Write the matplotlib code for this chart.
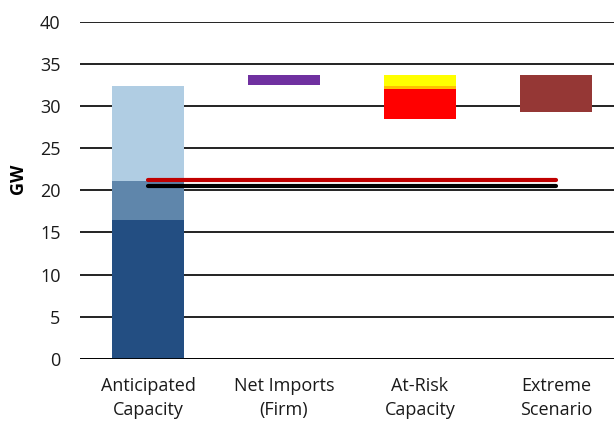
import matplotlib.pyplot as plt

categories = ['Anticipated\nCapacity', 'Net Imports\n(Firm)', 'At-Risk\nCapacity', 'Extreme\nScenario']

# anticipated capacity stacked segments (GW)
antic_segments = [16.5, 4.6, 11.35]
antic_colors = ['#234E82', '#5F86AB', '#B0CDE3']

# floating bars: (bottom, height)
imports_bar = (32.5, 1.15)
atrisk_segments = [(28.5, 3.5), (32.0, 0.35), (32.35, 1.3)]
atrisk_colors = ['#FF0000', '#FFC000', '#FFFF00']
extreme_bar = (29.25, 4.4)

# horizontal reference lines (GW)
red_level = 21.2
black_level = 20.5

plt.rcParams['font.family'] = ['Open Sans', 'DejaVu Sans']

fig = plt.figure(figsize=(6.14, 4.22), dpi=100)
ax = fig.add_axes([80 / 614, (422 - 358.7) / 422, 544 / 614, 336.7 / 422])

w = 0.53
bottom = 0
for h, c in zip(antic_segments, antic_colors):
    ax.bar(0, h, w, bottom=bottom, color=c, zorder=3)
    bottom += h

ax.bar(1, imports_bar[1], w, bottom=imports_bar[0], color='#7030A0', zorder=3)
for (b, h), c in zip(atrisk_segments, atrisk_colors):
    ax.bar(2, h, w, bottom=b, color=c, zorder=3)
ax.bar(3, extreme_bar[1], w, bottom=extreme_bar[0], color='#953735', zorder=3)

ax.plot([0, 3], [red_level, red_level], color='#C00000', lw=3, solid_capstyle='round', zorder=4)
ax.plot([0, 3], [black_level, black_level], color='black', lw=3, solid_capstyle='round', zorder=4)

ax.set_xlim(-0.5, 3.5)
ax.set_ylim(0, 40)
ax.set_yticks(range(0, 41, 5))
ax.yaxis.grid(True, color='#111111', lw=1.3, zorder=0)
ax.axhline(0, color='black', lw=2, zorder=5)

for s in ax.spines.values():
    s.set_visible(False)
ax.tick_params(length=0, labelsize=13, colors='#1a1a1a')
ax.tick_params(axis='y', pad=14)
ax.tick_params(axis='x', pad=13)
ax.set_xticks(range(len(categories)))
ax.set_xticklabels(categories, linespacing=1.45)
ax.set_ylabel('GW', fontsize=13, fontweight='bold')
ax.yaxis.set_label_coords(-0.097, 0.534)

fig.savefig('out.png', dpi=100)
